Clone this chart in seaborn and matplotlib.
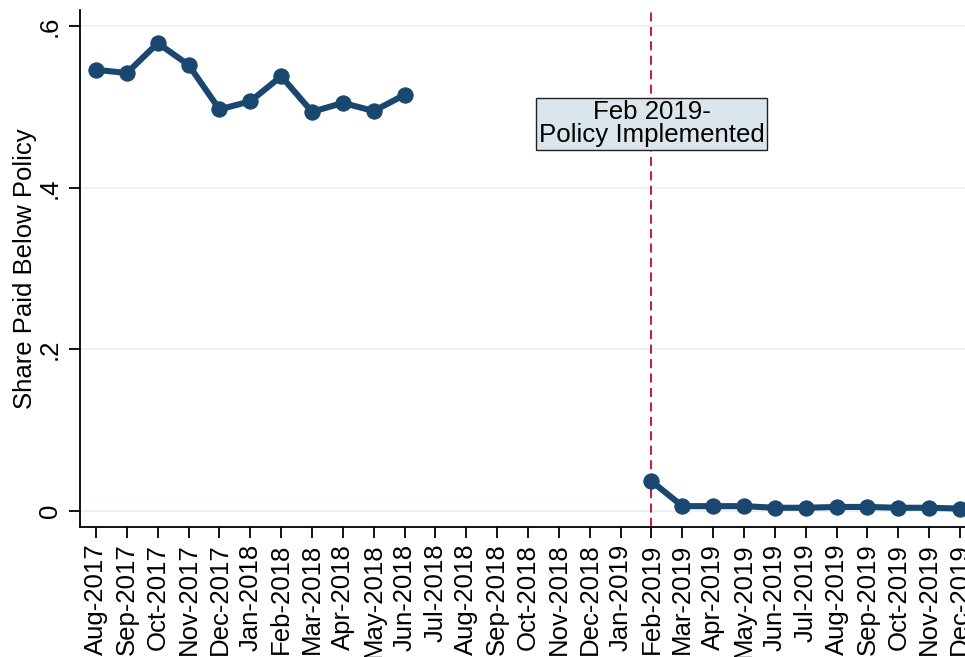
import numpy as np
import pandas as pd
import matplotlib
matplotlib.use("Agg")
import matplotlib.pyplot as plt
import seaborn as sns

months = ["Aug-2017", "Sep-2017", "Oct-2017", "Nov-2017", "Dec-2017",
          "Jan-2018", "Feb-2018", "Mar-2018", "Apr-2018", "May-2018", "Jun-2018",
          "Jul-2018", "Aug-2018", "Sep-2018", "Oct-2018", "Nov-2018", "Dec-2018",
          "Jan-2019", "Feb-2019", "Mar-2019", "Apr-2019", "May-2019", "Jun-2019",
          "Jul-2019", "Aug-2019", "Sep-2019", "Oct-2019", "Nov-2019", "Dec-2019"]
share = [0.546, 0.542, 0.579, 0.552, 0.497, 0.507, 0.538, 0.494, 0.505, 0.495, 0.515,
         np.nan, np.nan, np.nan, np.nan, np.nan, np.nan, np.nan,
         0.037, 0.006, 0.006, 0.006, 0.004, 0.004, 0.005, 0.005, 0.004, 0.004, 0.003]
period = ["pre"] * 11 + ["gap"] * 7 + ["post"] * 11
ytick_vals = [0, 0.2, 0.4, 0.6]
ytick_labels = ["0", ".2", ".4", ".6"]
policy_month = "Feb-2019"
annot_text = "Feb 2019-\nPolicy Implemented"

df = pd.DataFrame({"month": months, "share": share, "period": period})
df["x"] = np.arange(len(months))
df = df.dropna()

sns.set_theme(style="white")
plt.rcParams["font.family"] = ["Liberation Sans", "DejaVu Sans"]
plt.rcParams.update({"text.color": "black", "axes.labelcolor": "black",
                     "xtick.color": "black", "ytick.color": "black"})

navy = "#1a476f"
fig = plt.figure(figsize=(9.65, 6.57), dpi=100)
ax = fig.add_axes([80 / 965, (657 - 527) / 657, (965 - 80) / 965, (527 - 10) / 657])

sns.lineplot(data=df, x="x", y="share", hue="period", palette={"pre": navy, "post": navy},
             marker="o", markersize=11, markeredgecolor=navy, linewidth=4.4,
             legend=False, ax=ax, zorder=3)

px = months.index(policy_month)
ax.axvline(px, color="#c10534", linestyle=(0, (5, 3)), linewidth=1.3, zorder=2)
ax.text(px, 0.479, annot_text, ha="center", va="center", fontsize=18.6, linespacing=0.95,
        color="black",
        bbox=dict(boxstyle="square,pad=0.1", facecolor="#dae5ec", edgecolor="#222222", linewidth=1.0),
        zorder=4)

ax.set_xlim(-0.52, 28.16)
ax.set_ylim(-0.0198, 0.62)
for v in ytick_vals:
    ax.axhline(v, color="#eaf2f3", linewidth=1.5, zorder=1)

ax.set_xticks(np.arange(len(months)))
ax.set_xticklabels(months, rotation=90, fontsize=18.5, color="black")
ax.set_yticks(ytick_vals)
ax.set_yticklabels(ytick_labels, rotation=90, va="center", fontsize=18.5, color="black")
ax.tick_params(axis="both", which="major", direction="out", length=8, width=1.3,
               color="black", labelcolor="black", left=True, bottom=True, pad=5)
ax.tick_params(axis="x", pad=4)
ax.set_xlabel("")
ax.set_ylabel("Share Paid Below Policy", fontsize=18.5, labelpad=1, color="black")
for s in ["top", "right"]:
    ax.spines[s].set_visible(False)
for s in ["left", "bottom"]:
    ax.spines[s].set_color("black")
    ax.spines[s].set_linewidth(1.3)

fig.savefig("out.png", dpi=100)
